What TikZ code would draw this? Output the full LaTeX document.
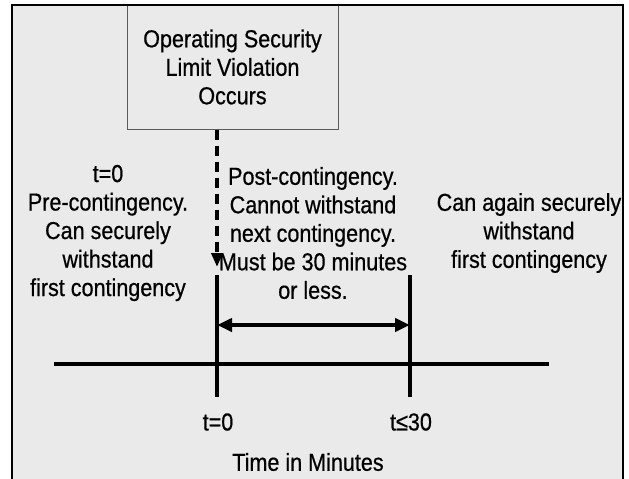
\documentclass[tikz,border=0pt]{standalone}
\usepackage{fontspec}
\setmainfont{Liberation Sans}[FakeStretch=0.88, FakeBold=0.6]
\usetikzlibrary{arrows.meta}
\definecolor{panelgray}{RGB}{234,234,234}
\definecolor{boxedge}{RGB}{90,90,90}

\begin{document}
\begin{tikzpicture}[x=1pt, y=-1pt, >={Triangle[length=15pt,width=13pt]},
    txt/.style={align=center, font=\fontsize{24.5}{28.5}\selectfont, inner sep=0pt}]
    \useasboundingbox (0,0) rectangle (629,479);
    % Panel
    \fill[panelgray] (12,5) rectangle (623,479);
    % Event box
    \node[txt, draw=boxedge, line width=1pt, minimum width=211pt, minimum height=124pt] (event) at (232.5,67) {Operating Security\\Limit Violation\\Occurs};
    \draw[black, line width=2.5pt] (12,479) -- (12,5) -- (623,5) -- (623,479);
    % Time axis
    \coordinate (axL) at (54,364);
    \coordinate (axR) at (549,364);
    \draw[line width=4pt] (axL) -- (axR);
    % Markers at t=0 and t=30
    \foreach \n/\x in {0/217, 30/410} {
            \coordinate (top\n) at (\x,275);
            \coordinate (bot\n) at (\x,397);
            \draw[line width=4pt] (top\n) -- (bot\n);
        }
    \node[txt] (lab0) at (218,422) {t=0};
    \node[txt] (lab30) at (411,422) {t≤30};
    \node[txt] (axlabel) at (308,462) {Time in Minutes};
    % Phase descriptions
    \node[txt] (pre) at (108,233) {t=0\\Pre-contingency.\\Can securely\\withstand\\first contingency};
    \node[txt] (post) at (313,233) {Post-contingency.\\Cannot withstand\\next contingency.\\Must be 30 minutes\\or less.};
    \node[txt] (after) at (529,233) {Can again securely\\withstand\\first contingency};
    % Connectors
    \coordinate (hit) at (217,267);
    \draw[->, line width=3.5pt, dash pattern=on 10pt off 6pt, >={Triangle[length=14pt,width=11pt]}] (event.south -| hit) -- (hit);
    \coordinate (span0) at (217,325);
    \coordinate (span30) at (410,325);
    \draw[<->, line width=4pt] (span0) -- (span30);
\end{tikzpicture}
\end{document}
